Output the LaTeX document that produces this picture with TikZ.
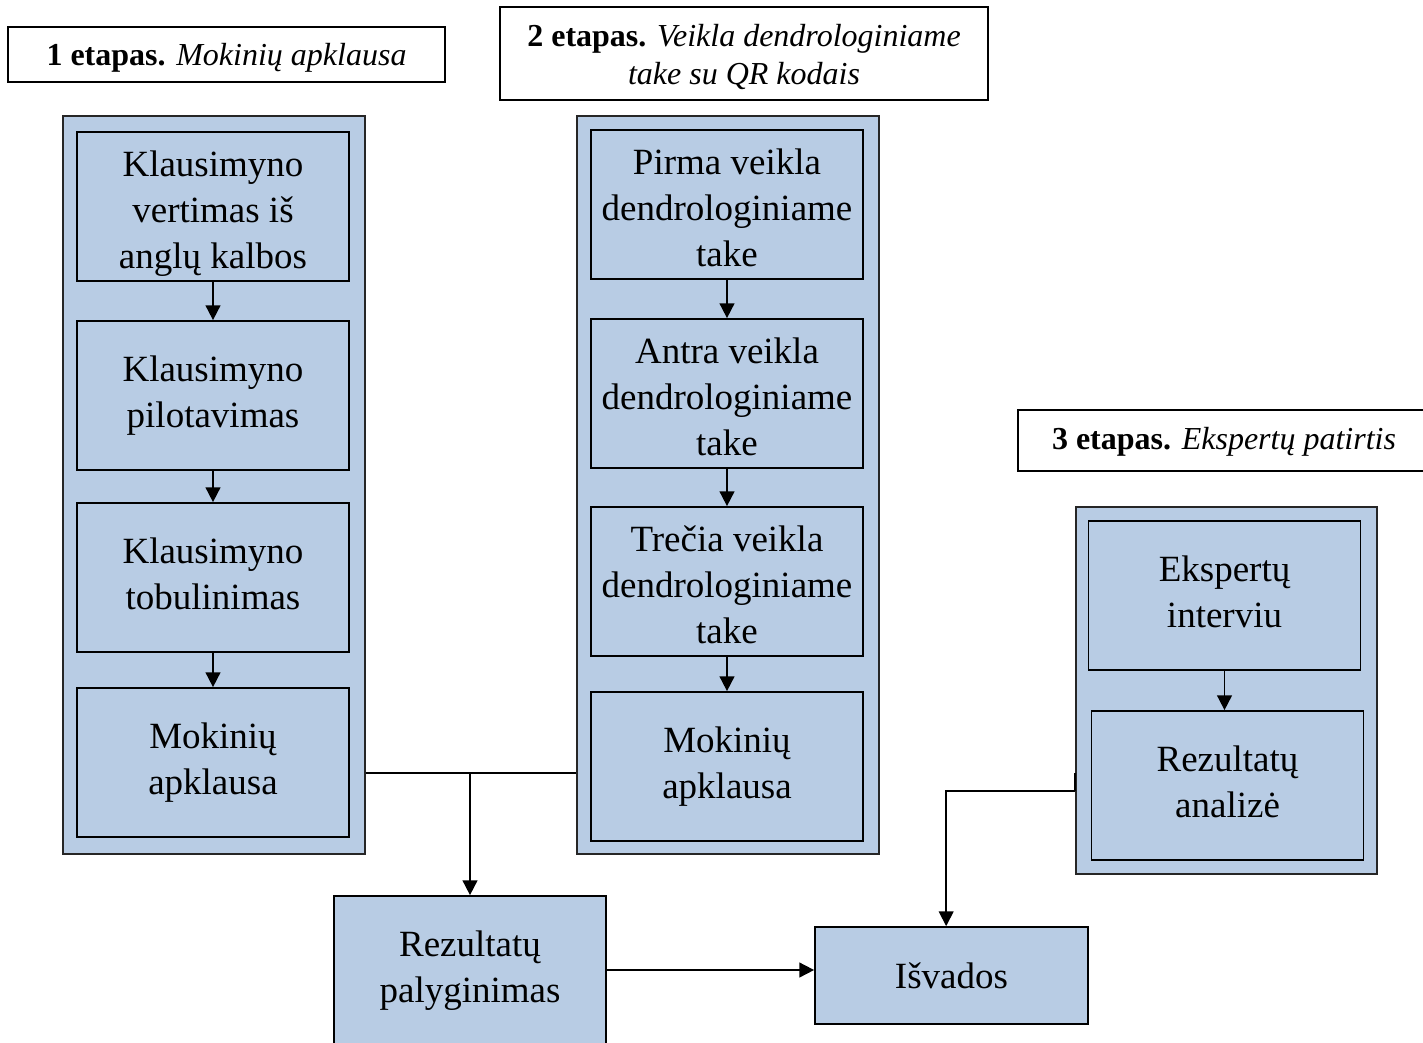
\documentclass[tikz,border=0pt]{standalone}
\usepackage{fontspec}
\setmainfont{Liberation Serif}
\usetikzlibrary{arrows.meta}
\definecolor{boxblue}{HTML}{B8CCE4}
\begin{document}
\begin{tikzpicture}[x=0.75pt,y=-0.75pt,
  panel/.style={draw=black!85,line width=1pt,fill=boxblue,minimum width=226.5pt,inner sep=0pt},
  stepbox/.style={draw=black,line width=1.3pt,fill=boxblue,minimum width=204pt,minimum height=111.75pt,inner sep=0pt,align=center,font=\fontsize{27.75}{34.5}\selectfont},
  twoline/.style={text height=53.5pt,text depth=6pt},
  threeline/.style={text height=99pt,text depth=6pt},
  titlebox/.style={draw=black,line width=1.3pt,fill=white,inner sep=0pt,align=center,font=\fontsize{24}{28.5}\selectfont},
  arr/.style={line width=1.3pt,-{Triangle[length=11pt,width=11pt]}},
  conn/.style={line width=1.3pt}]
\useasboundingbox (0,0) rectangle (1423,1042);
% titles
\node[titlebox,minimum width=327.75pt,minimum height=41.25pt,text height=22.3pt,text depth=5.2pt] (t1) at (226.5,54.5) {\textbf{1 etapas.} \textit{Mokinių apklausa}};
\node[titlebox,minimum width=366pt,minimum height=69.75pt,text height=51pt,text depth=5pt] (t2) at (744,53.5) {\textbf{2 etapas.} \textit{Veikla dendrologiniame}\\\textit{take su QR kodais}};
\node[titlebox,minimum width=309pt,minimum height=45.75pt,text height=19.3pt,text depth=5.2pt] (t3) at (1224,440.5) {\textbf{3 etapas.} \textit{Ekspertų patirtis}};
% panels
\node[panel,minimum height=553.5pt] (p1) at (214,485) {};
\node[panel,minimum height=553.5pt] (p2) at (728,485) {};
\node[panel,minimum width=225.75pt,minimum height=275.25pt] (p3) at (1226.5,690.5) {};
% panel 1
\node[stepbox,threeline] (a1) at (213,206.5) {Klausimyno\\vertimas iš\\anglų kalbos};
\node[stepbox,twoline] (a2) at (213,395.5) {Klausimyno\\pilotavimas};
\node[stepbox,twoline] (a3) at (213,577.5) {Klausimyno\\tobulinimas};
\node[stepbox,twoline] (a4) at (213,762.5) {Mokinių\\apklausa};
% panel 2
\node[stepbox,threeline] (b1) at (727,204.5) {Pirma veikla\\dendrologiniame\\take};
\node[stepbox,threeline] (b2) at (727,393.5) {Antra veikla\\dendrologiniame\\take};
\node[stepbox,threeline] (b3) at (727,581.5) {Trečia veikla\\dendrologiniame\\take};
\node[stepbox,twoline] (b4) at (727,766.5) {Mokinių\\apklausa};
% panel 3
\node[stepbox,twoline] (e1) at (1224.5,595.5) {Ekspertų\\interviu};
\node[stepbox,twoline] (e2) at (1227.5,785.5) {Rezultatų\\analizė};
% bottom
\node[stepbox,twoline] (rez) at (470,970.5) {Rezultatų\\palyginimas};
\node[stepbox,minimum width=204.75pt,minimum height=72.75pt] (isv) at (951.5,975.5) {Išvados};
% arrows inside panels
\draw[arr] (a1.south) -- (a2.north);
\draw[arr] (a2.south) -- (a3.north);
\draw[arr] (a3.south) -- (a4.north);
\draw[arr] (b1.south) -- (b2.north);
\draw[arr] (b2.south) -- (b3.north);
\draw[arr] (b3.south) -- (b4.north);
\draw[arr] (e1.south) -- (e1.south |- e2.north);
% connectors
\coordinate (j1) at (470,773);
\draw[conn] (p1.east |- j1) -- (p2.west |- j1);
\draw[arr] (j1) -- (rez.north);
\draw[arr] (rez.east |- 0,970) -- (isv.west |- 0,970);
\coordinate (j2) at (1076,791);
\draw[conn] (p3.west |- 0,773) -- (p3.west |- j2);
\draw[arr] (p3.west |- j2) -| ([xshift=-4pt]isv.north);
\end{tikzpicture}
\end{document}
